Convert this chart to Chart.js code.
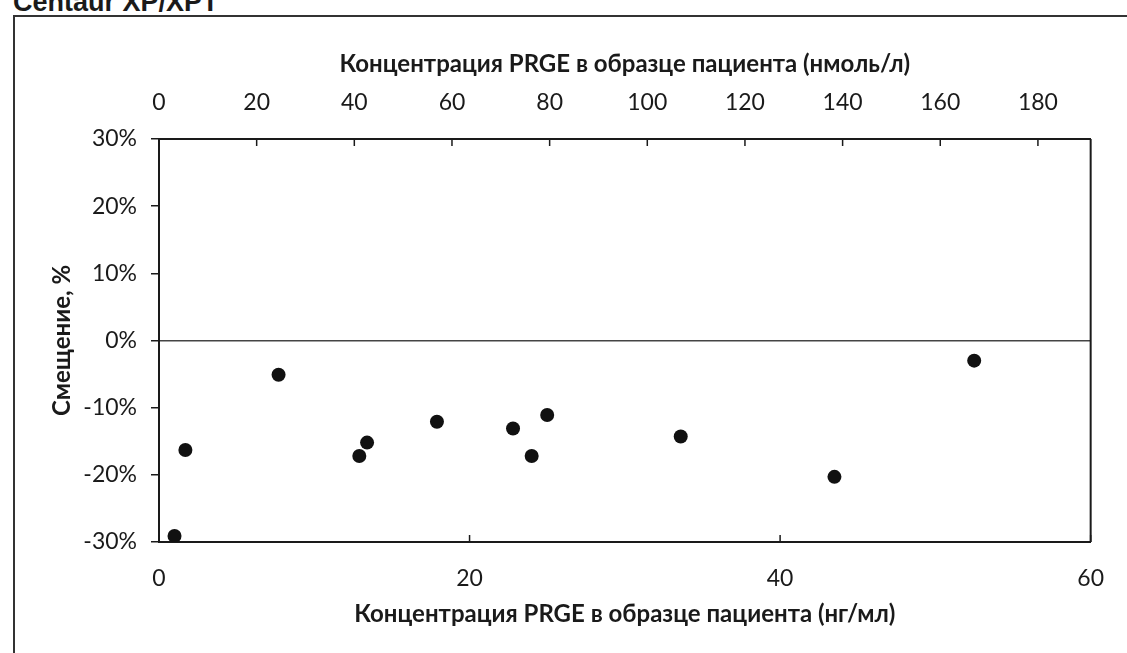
<!DOCTYPE html>
<html>
<head>
<meta charset="utf-8">
<script src="https://cdn.jsdelivr.net/npm/chart.js@4"></script>
<style>
  html, body { margin: 0; padding: 0; background: #fff; overflow: hidden; }
  #wrap { position: relative; width: 1127px; height: 653px; }
  #frame { position: absolute; left: 13px; top: 15px; width: 1200px; height: 700px;
           border-left: 2px solid #333; border-top: 2px solid #333; }
  #heading { position: absolute; left: 13px; top: -13px; font: bold 27px "Liberation Sans", Arial, sans-serif; color: #1a1a1a; }
  canvas { position: absolute; left: 0; top: 0; }
</style>
</head>
<body>
<div id="wrap">
  <div id="heading">Centaur XP/XPT</div>
  <div id="frame"></div>
  <canvas id="chart" width="1127" height="653"></canvas>
</div>
<script>
// concentration, ng/ml
const concNgMl = [1.0, 1.7, 7.7, 12.9, 13.4, 17.9, 22.8, 24.0, 25.0, 33.6, 43.5, 52.5];
// bias, %
const biasPct = [-29.1, -16.3, -5.1, -17.2, -15.2, -12.1, -13.1, -17.2, -11.1, -14.3, -20.3, -3.0];

const ngMlToNmolL = 3.18;
const xMax = 60;
const yTicks = [-30, -20, -10, 0, 10, 20, 30];

const txt = '#1a1a1a';
const tickFont = { family: 'Lato', size: 23 };
const titleFont = { family: 'Lato', size: 24, weight: 'bold' };

const points = concNgMl.map((x, i) => ({ x, y: biasPct[i] }));

// little tick marks pointing into the plot, like the original
const innerTicks = {
  id: 'innerTicks',
  afterDraw(chart) {
    const { ctx, chartArea } = chart;
    ctx.save();
    ctx.strokeStyle = txt;
    ctx.lineWidth = 1.5;
    const bx = chart.scales.x;
    bx.ticks.forEach(t => {
      const px = bx.getPixelForValue(t.value);
      ctx.beginPath();
      ctx.moveTo(px, chartArea.bottom);
      ctx.lineTo(px, chartArea.bottom - 7);
      ctx.stroke();
    });
    const tx = chart.scales.x2;
    tx.ticks.forEach(t => {
      const px = tx.getPixelForValue(t.value);
      ctx.beginPath();
      ctx.moveTo(px, chartArea.top);
      ctx.lineTo(px, chartArea.top + 7);
      ctx.stroke();
    });
    // right side of the box
    ctx.lineWidth = 2;
    ctx.beginPath();
    ctx.moveTo(chartArea.right, chartArea.top);
    ctx.lineTo(chartArea.right, chartArea.bottom);
    ctx.stroke();
    ctx.restore();
  }
};

new Chart(document.getElementById('chart'), {
  type: 'scatter',
  data: {
    datasets: [{
      data: points,
      backgroundColor: '#111',
      borderWidth: 0,
      pointRadius: 7,
      pointHoverRadius: 7
    }]
  },
  options: {
    responsive: false,
    animation: false,
    layout: { padding: { left: 0, right: 36, top: 0, bottom: 0 } },
    plugins: { legend: { display: false }, tooltip: { enabled: false } },
    scales: {
      x: {
        type: 'linear',
        position: 'bottom',
        min: 0,
        max: xMax,
        afterFit: s => { s.height = 111; },
        ticks: { stepSize: 20, color: txt, font: tickFont, padding: 23, maxRotation: 0 },
        grid: { display: false, drawTicks: false },
        border: { display: true, color: txt, width: 2 },
        title: {
          display: true,
          text: 'Концентрация PRGE в образце пациента (нг/мл)',
          color: txt,
          font: titleFont,
          padding: { top: 0, bottom: 24 }
        }
      },
      x2: {
        type: 'linear',
        position: 'top',
        min: 0,
        max: xMax * ngMlToNmolL,
        afterFit: s => { s.height = 139; },
        ticks: { stepSize: 20, includeBounds: false, color: txt, font: tickFont, padding: 23, maxRotation: 0 },
        grid: { display: false, drawTicks: false },
        border: { display: true, color: txt, width: 2 },
        title: {
          display: true,
          text: 'Концентрация PRGE в образце пациента (нмоль/л)',
          color: txt,
          font: titleFont,
          padding: { top: 50, bottom: 0 }
        }
      },
      y: {
        min: -30,
        max: 30,
        afterFit: s => { s.width = 159; },
        afterBuildTicks: s => { s.ticks = yTicks.map(v => ({ value: v })); },
        ticks: { color: txt, font: tickFont, padding: 14, callback: v => v + '%' },
        grid: {
          drawOnChartArea: true,
          color: c => (c.tick && c.tick.value === 0) ? '#444' : 'rgba(0,0,0,0)',
          lineWidth: 1.5,
          tickColor: txt,
          tickLength: 8
        },
        border: { display: true, color: txt, width: 2 },
        title: {
          display: true,
          text: 'Смещение, %',
          color: txt,
          font: titleFont,
          padding: { top: 48, bottom: 0 }
        }
      }
    }
  },
  plugins: [innerTicks]
});
</script>
</body>
</html>
